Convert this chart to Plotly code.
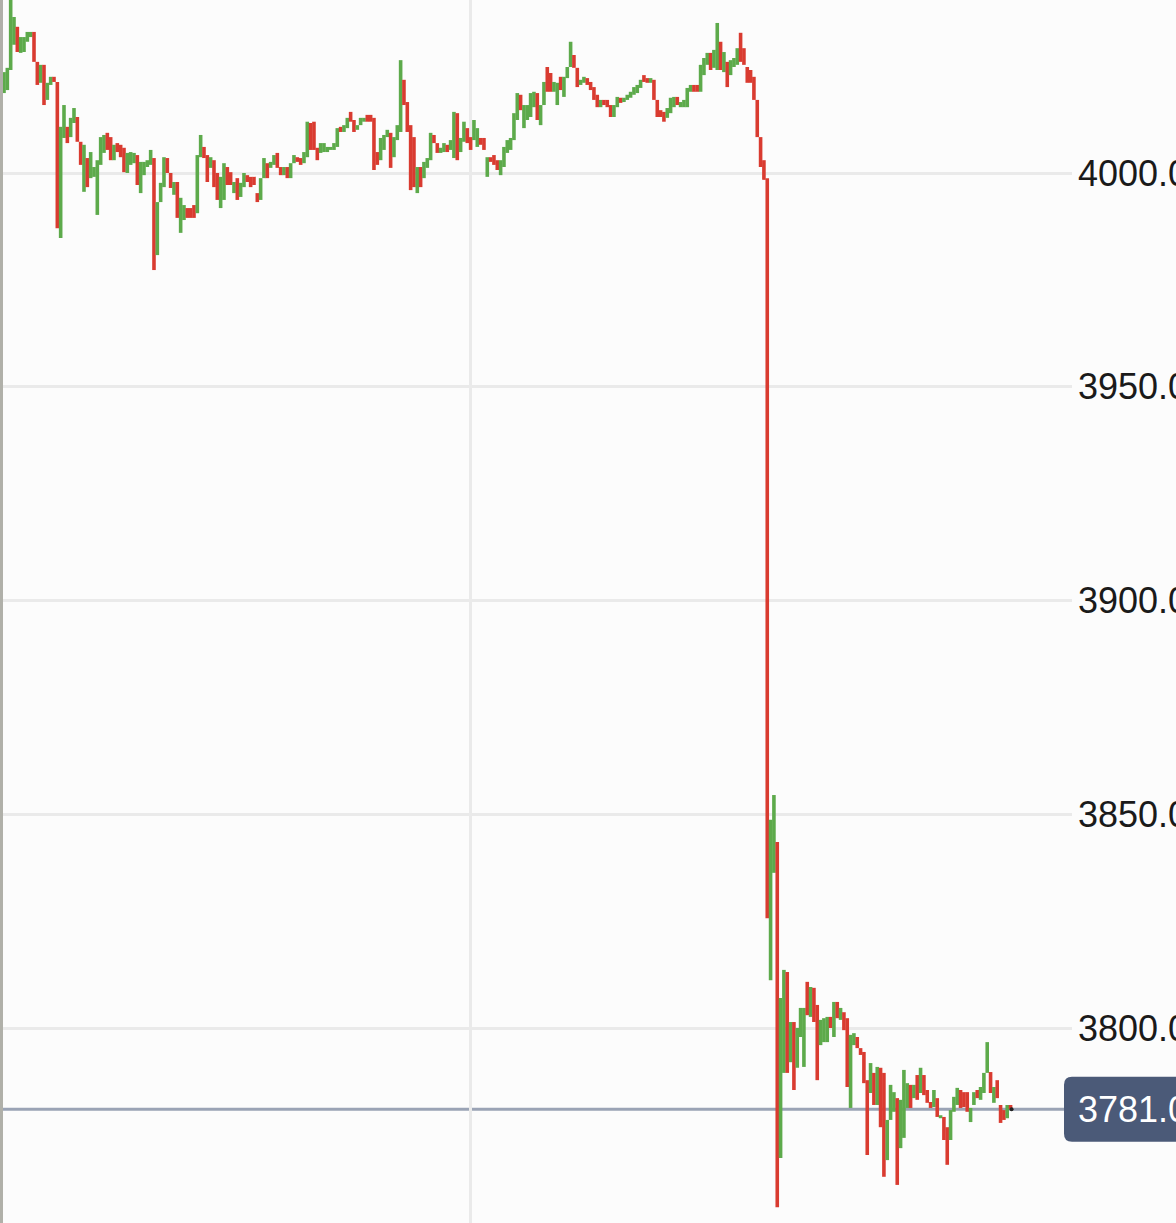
import plotly.graph_objects as go

# ---- data ----
open_prices = [
    4018.7, 4019.4, 4024.1, 4030.0, 4034.2, 4028.1, 4028.3, 4030.7, 4031.8, 4033.0,
    4026.0, 4021.1, 4025.3, 4017.1, 4020.6, 4022.5, 4021.3, 3984.8, 4008.2, 4010.8,
    4008.4, 4011.7, 4013.1, 4007.3, 3995.6, 4003.5, 3998.8, 3999.1, 3990.2, 4001.9,
    4004.7, 4009.4, 4008.4, 4003.0, 4007.0, 4006.6, 4005.9, 4000.0, 4001.9, 4002.3,
    4004.2, 3995.3, 3999.5, 4001.4, 4001.9, 4003.5, 3980.8, 3993.2, 3996.7, 4003.5,
    4000.0, 3994.9, 3997.9, 3986.0, 3989.0, 3991.8, 3991.8, 3992.5, 3990.6, 4003.7,
    4006.1, 4004.2, 4001.2, 4003.0, 4000.0, 3991.8, 3993.7, 4001.4, 4000.2, 3995.3,
    3998.8, 3994.4, 3996.7, 3999.5, 3999.1, 3999.1, 3995.3, 3993.7,
    3998.8, 4002.3, 4001.2, 4001.9, 4004.7, 4001.4, 3999.5, 4001.4, 3998.8, 4002.3,
    4003.7, 4003.5, 4002.3, 4003.7, 4011.7, 4012.0, 4005.9, 4004.7, 4004.9, 4004.9,
    4005.4, 4005.4, 4006.1, 4010.8,
    4009.6, 4010.5, 4014.3, 4012.4, 4010.1, 4011.2, 4012.0, 4013.6, 4013.6, 4012.9,
    4004.9, 4003.0, 4005.4, 4008.4, 4009.4, 4003.7, 4007.7, 4009.6, 4021.8, 4016.6,
    4011.2, 4008.4, 3995.3, 4001.4, 3998.8, 4001.2, 4003.0, 4008.9, 4007.0, 4004.7,
    4004.9, 4006.6, 4005.4, 4003.5, 4014.0, 4004.9, 4007.3, 4010.5, 4008.4, 4007.7,
    4006.1, 4008.2, 4008.2, 3999.1, 4003.7, 4004.2, 4003.0, 3999.5, 4001.4,
    4004.7, 4005.4, 4007.7, 4012.4, 4018.3, 4010.5, 4012.4, 4013.1, 4015.4, 4018.7,
    4011.2, 4015.9, 4024.8, 4023.4, 4019.0, 4015.9, 4022.5, 4017.8, 4022.2, 4024.8,
    4027.6, 4024.6, 4020.6, 4021.1, 4022.2, 4021.3, 4020.1, 4018.3, 4015.4, 4017.1,
    4017.1, 4015.9, 4013.1, 4015.4, 4017.6, 4016.6, 4017.1, 4017.6, 4018.3, 4018.7,
    4019.9, 4022.9, 4022.2, 4021.1, 4021.8, 4017.1, 4014.7, 4014.3, 4012.9, 4014.0,
    4015.4, 4017.8, 4015.4, 4015.4, 4015.4, 4019.0, 4020.6, 4020.6, 4019.0, 4022.9,
    4025.3, 4028.1, 4024.6, 4024.1, 4030.7, 4023.6, 4026.0, 4022.9, 4024.8, 4025.3,
    4032.8, 4029.2, 4024.8, 4024.1, 4022.5, 4017.1, 4008.4, 4003.0, 3998.8,
    3811.2, 3836.3, 3843.5, 3769.6, 3789.5, 3813.1, 3792.0, 3801.4, 3790.7, 3797.9,
    3790.9, 3810.8, 3802.6, 3809.4, 3805.4, 3796.0, 3796.7, 3796.7, 3802.6, 3797.9,
    3806.1, 3801.9, 3803.7, 3802.3, 3781.3, 3796.0, 3797.9, 3795.3, 3794.4, 3787.8,
    3784.8, 3789.5, 3782.0, 3790.7, 3789.5, 3769.1, 3778.5, 3780.4, 3783.6, 3771.9,
    3774.3, 3781.3, 3786.7, 3783.6, 3789.0, 3784.8, 3789.0, 3785.5, 3782.7, 3781.5,
    3783.6, 3778.9, 3779.2, 3776.8, 3773.8, 3780.4, 3782.0, 3785.5, 3785.0, 3785.0,
    3778.0, 3782.0, 3785.5, 3783.2, 3784.8, 3789.5, 3789.7, 3782.5, 3787.8, 3782.0,
    3780.8, 3778.9, 3782.0,
]

close_prices = [
    4023.6, 4024.6, 4042.0, 4036.5, 4028.3, 4031.8, 4031.8, 4033.0, 4033.0, 4026.0,
    4020.6, 4025.3, 4015.9, 4021.1, 4022.5, 4021.3, 3987.1, 4010.8, 4015.9, 4007.0,
    4012.9, 4015.2, 4007.3, 4001.9, 4006.6, 3996.7, 4004.9, 4001.4, 4003.0, 4008.4,
    4008.9, 4005.4, 4003.0, 4006.6, 4004.9, 4003.7, 4000.2, 4004.7, 4004.9, 4004.7,
    3997.2, 4002.6, 4002.6, 4003.0, 4005.4, 3977.3, 3993.2, 3997.7, 4003.7, 4000.0,
    3996.5, 3997.9, 3989.5, 3994.2, 3992.5, 3989.5, 3989.5, 3989.5, 4004.2, 4008.9,
    4003.5, 3997.9, 4003.7, 3996.7, 3993.7, 3999.1, 4002.3, 3997.2, 3997.2, 3997.9,
    3993.7, 3997.7, 4000.0, 3997.9, 3996.7, 3997.2, 3993.2, 3998.8,
    4003.5, 3998.8, 4002.6, 4004.2, 4001.2, 3999.5, 4001.4, 3998.8, 4002.3, 4004.2,
    4002.6, 4001.9, 4004.9, 4012.0, 4005.4, 4005.4, 4003.0, 4007.0, 4007.0, 4006.1,
    4006.1, 4007.0, 4010.5, 4009.6,
    4011.2, 4012.9, 4012.0, 4009.6, 4011.2, 4012.9, 4012.9, 4012.0, 4012.0, 4000.7,
    4001.9, 4008.2, 4008.9, 4010.1, 4001.2, 4008.4, 4011.2, 4026.4, 4015.9, 4009.6,
    3996.0, 3996.7, 4001.4, 3996.7, 4002.6, 4003.5, 4009.4, 4007.0, 4004.7, 4005.9,
    4007.0, 4004.9, 4007.7, 4014.3, 4003.0, 4008.2, 4012.0, 4007.0, 4005.4, 4012.4,
    4010.5, 4006.6, 4005.4, 4003.7, 4002.6, 4001.9, 4000.7, 4003.0, 4006.1,
    4007.7, 4008.2, 4014.0, 4018.7, 4014.7, 4015.9, 4015.9, 4018.7, 4019.0, 4012.4,
    4015.9, 4021.3, 4019.0, 4019.0, 4021.3, 4021.1, 4019.4, 4022.5, 4024.8, 4030.7,
    4024.6, 4020.1, 4021.8, 4022.5, 4020.6, 4019.4, 4017.1, 4015.4, 4017.1, 4015.9,
    4015.4, 4013.1, 4015.9, 4017.8, 4016.4, 4017.6, 4018.3, 4019.0, 4020.1, 4020.6,
    4021.8, 4021.3, 4021.1, 4022.2, 4017.1, 4013.1, 4013.1, 4012.0, 4015.2, 4017.6,
    4017.8, 4015.9, 4016.6, 4017.1, 4019.9, 4020.6, 4019.0, 4019.0, 4025.3, 4026.9,
    4028.1, 4024.1, 4028.8, 4035.1, 4024.1, 4028.3, 4020.1, 4026.4, 4026.9, 4029.2,
    4026.0, 4025.3, 4021.1, 4021.1, 4017.1, 4008.4, 4001.4, 3998.4, 3825.7,
    3848.7, 3854.5, 3758.1, 3807.0, 3813.6, 3789.5, 3801.4, 3785.5, 3800.0, 3804.7,
    3804.7, 3803.0, 3809.6, 3801.4, 3787.8, 3801.9, 3802.3, 3802.6, 3800.0, 3806.1,
    3802.3, 3804.7, 3799.5, 3786.2, 3798.4, 3798.8, 3795.3, 3793.7, 3787.1, 3770.3,
    3791.8, 3782.0, 3790.9, 3776.8, 3765.2, 3778.5, 3786.7, 3785.0, 3763.3, 3783.2,
    3790.2, 3787.1, 3781.3, 3786.7, 3783.2, 3790.7, 3784.3, 3782.5, 3781.3, 3785.5,
    3779.2, 3779.6, 3773.8, 3768.0, 3780.8, 3783.9, 3786.0, 3781.3, 3781.5, 3780.4,
    3781.3, 3785.0, 3783.6, 3786.2, 3789.5, 3796.7, 3784.8, 3786.2, 3783.6, 3777.8,
    3778.5, 3782.0, 3781.0,
]

last_price = 3781.0
y_tick_values = [3800, 3850, 3900, 3950, 4000]
time_grid_index = [140.1]

assert len(open_prices) == len(close_prices)

bar_index = list(range(len(open_prices)))
high_prices = [max(o, c) for o, c in zip(open_prices, close_prices)]
low_prices = [min(o, c) for o, c in zip(open_prices, close_prices)]

GREEN = "#5DAA4B"
RED = "#D93B30"
BG = "#FCFCFC"
GRID = "#EAEAEA"
LABEL_BG = "#4B5A78"
PRICE_LINE = "#9AA3B5"

W, H = 1176, 1223
R_MARGIN = 104
PLOT_W = W - R_MARGIN
Y_RANGE = [3754.39, 4040.47]
PX_PER_UNIT = H / (Y_RANGE[1] - Y_RANGE[0])

fig = go.Figure()
fig.add_trace(go.Ohlc(
    x=bar_index, open=open_prices, high=high_prices, low=low_prices, close=close_prices,
    increasing=dict(line=dict(color=GREEN, width=3.6)),
    decreasing=dict(line=dict(color=RED, width=3.6)),
    tickwidth=0, hoverinfo="skip", showlegend=False,
))
fig.add_trace(go.Scatter(
    x=[bar_index[-1] + 0.3], y=[last_price], mode="markers",
    marker=dict(color="#222222", size=4), hoverinfo="skip", showlegend=False,
))

# price line
fig.add_shape(type="line", xref="paper", yref="y", x0=0, x1=1, y0=last_price, y1=last_price,
              line=dict(color=PRICE_LINE, width=3), layer="between")
# left border
fig.add_shape(type="line", xref="paper", yref="paper", x0=0, x1=0, y0=0, y1=1,
              line=dict(color="#B0B0A9", width=6), layer="above")

# price label box (rounded)
hx0 = 1064 / PLOT_W
hx1 = 1200 / PLOT_W
half = 32.5 / PX_PER_UNIT
ry = 8 / PX_PER_UNIT
rx = 8 / PLOT_W
y0 = last_price - half
y1 = last_price + half
path = (f"M {hx0+rx},{y1} L {hx1},{y1} L {hx1},{y0} L {hx0+rx},{y0} "
        f"Q {hx0},{y0} {hx0},{y0+ry} L {hx0},{y1-ry} Q {hx0},{y1} {hx0+rx},{y1} Z")
fig.add_shape(type="path", xref="paper", yref="y", path=path,
              fillcolor=LABEL_BG, line=dict(width=0), layer="above")
fig.add_annotation(xref="paper", yref="y", x=1076 / PLOT_W, y=last_price,
                   text=f"{last_price:.1f}", showarrow=False, xanchor="left", yanchor="middle",
                   font=dict(family="Liberation Sans, Arial, sans-serif", size=36, color="#FFFFFF"))

xmin = -1.2
xmax = xmin + PLOT_W / 3.333

fig.update_layout(
    width=W, height=H,
    margin=dict(l=0, r=R_MARGIN, t=0, b=0, autoexpand=False),
    paper_bgcolor=BG, plot_bgcolor=BG,
    showlegend=False,
    xaxis=dict(range=[xmin, xmax], rangeslider=dict(visible=False),
               tickvals=time_grid_index, showticklabels=False, ticks="",
               showgrid=True, gridcolor=GRID, gridwidth=3, zeroline=False, showline=False),
    yaxis=dict(side="right", range=Y_RANGE, tickvals=y_tick_values, tickformat=".1f",
               ticks="", showgrid=True, gridcolor=GRID, gridwidth=3, zeroline=False,
               showline=False, automargin=False, ticklabelstandoff=5,
               tickfont=dict(family="Liberation Sans, Arial, sans-serif", size=36, color="#1A1A1A")),
)

fig.write_html(
    "out.html",
    config={"displayModeBar": False},
    post_script="document.body.style.margin='0';document.body.style.overflow='hidden';",
)
